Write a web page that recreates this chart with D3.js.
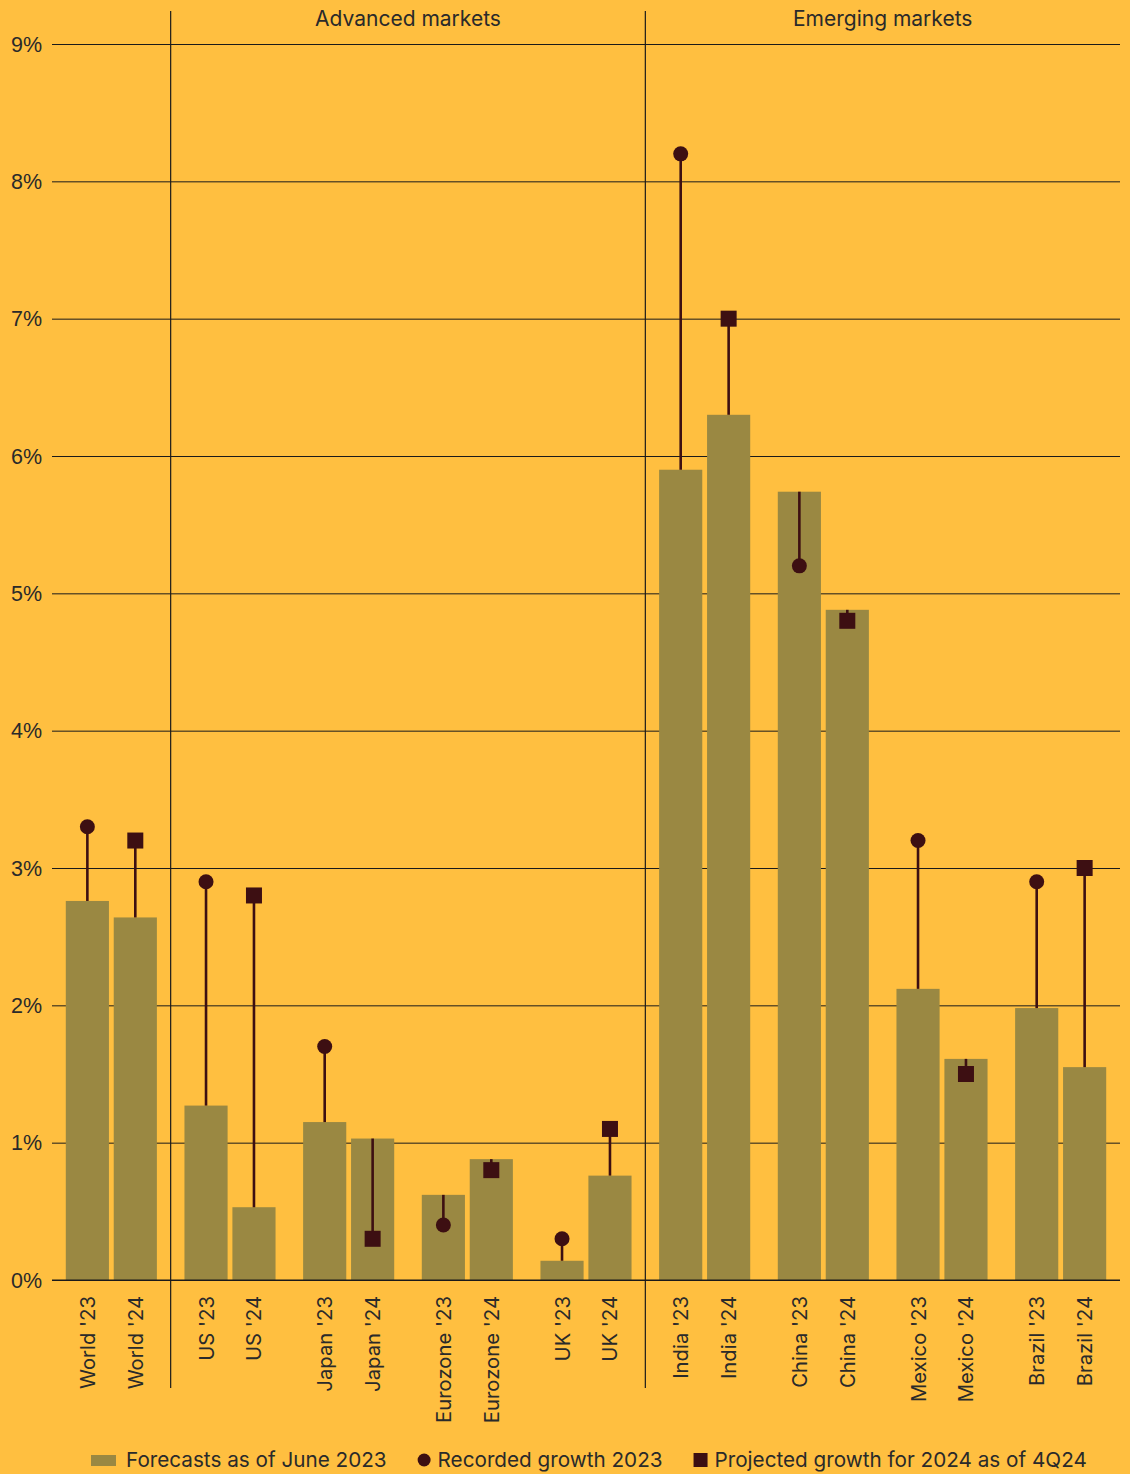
<!DOCTYPE html>
<html>
<head>
<meta charset="utf-8">
<script src="https://cdn.jsdelivr.net/npm/d3@7"></script>
<style>
  html, body { margin: 0; padding: 0; background: #FFBF40; }
  svg { display: block; font-family: Inter, "Noto Sans", sans-serif; }
</style>
</head>
<body>
<svg id="chart" width="1130" height="1474"></svg>
<script>
// Economies, grouped into pairs of 2023 / 2024 bars
const economies = ["World", "US", "Japan", "Eurozone", "UK", "India", "China", "Mexico", "Brazil"];
const years = ["'23", "'24"];

// Forecast growth as of June 2023 (%)
const forecast2023 = [2.76, 1.27, 1.15, 0.62, 0.14, 5.90, 5.74, 2.12, 1.98];
const forecast2024 = [2.64, 0.53, 1.03, 0.88, 0.76, 6.30, 4.88, 1.61, 1.55];

// Recorded growth 2023 (%)
const recorded2023 = [3.3, 2.9, 1.7, 0.4, 0.3, 8.2, 5.2, 3.2, 2.9];
// Projected growth for 2024 as of 4Q24 (%)
const projected2024 = [3.2, 2.8, 0.3, 0.8, 1.1, 7.0, 4.8, 1.5, 3.0];

const yTicks = [0, 1, 2, 3, 4, 5, 6, 7, 8, 9];
const sections = [
  { name: "Advanced markets", from: "US", to: "UK" },
  { name: "Emerging markets", from: "India", to: "Brazil" }
];
const legendItems = [
  { label: "Forecasts as of June 2023", kind: "bar" },
  { label: "Recorded growth 2023", kind: "circle" },
  { label: "Projected growth for 2024 as of 4Q24", kind: "square" }
];

const colors = {
  bar: "#9A8842",
  mark: "#3D0F12",
  grid: "#1a1a1a",
  text: "#2a2a2a"
};

const svg = d3.select("#chart");
const plotLeft = 52, plotRight = 1120, plotTop = 44, plotBottom = 1280;

const x0 = d3.scaleBand().domain(economies).range([plotLeft, plotRight]).padding(0);
const gw = x0.bandwidth();
const x1 = d3.scaleBand().domain(years)
  .range([gw * 0.096, gw * 0.904]).paddingInner(0.1).paddingOuter(0.05);
const y = d3.scaleLinear().domain([0, 9]).range([plotBottom, plotTop]);

// One record per bar
const rows = [];
economies.forEach((e, i) => {
  rows.push({ eco: e, yr: years[0], fc: forecast2023[i], actual: recorded2023[i], shape: "circle" });
  rows.push({ eco: e, yr: years[1], fc: forecast2024[i], actual: projected2024[i], shape: "square" });
});
const cx = d => x0(d.eco) + x1(d.yr) + x1.bandwidth() / 2;

// Gridlines and y labels
const yAxis = d3.axisLeft(y).tickValues(yTicks).tickSize(-(plotRight - plotLeft)).tickFormat(d => d + "%");
const yg = svg.append("g").attr("transform", `translate(${plotLeft},0)`).call(yAxis);
yg.select(".domain").remove();
yg.selectAll(".tick line").attr("stroke", colors.grid).attr("stroke-width", 1);
yg.selectAll(".tick text")
  .attr("x", -plotLeft + 11).attr("text-anchor", "start")
  .attr("fill", colors.text).style("font-size", "21.5px").attr("dy", "0.34em");

// Section dividers and titles
sections.forEach(s => {
  const xs = x0(s.from);
  const xe = x0(s.to) + gw;
  svg.append("line")
    .attr("x1", xs).attr("x2", xs).attr("y1", 11).attr("y2", 1388)
    .attr("stroke", colors.grid).attr("stroke-width", 1.2);
  svg.append("text")
    .attr("x", (xs + xe) / 2).attr("y", 26)
    .attr("text-anchor", "middle").attr("fill", colors.text)
    .style("font-size", "21px").text(s.name);
});

// Forecast bars
svg.append("g").selectAll("rect").data(rows).join("rect")
  .attr("x", d => x0(d.eco) + x1(d.yr))
  .attr("width", x1.bandwidth())
  .attr("y", d => y(d.fc))
  .attr("height", d => y(0) - y(d.fc))
  .attr("fill", colors.bar);

// Baseline
svg.append("line").attr("x1", plotLeft).attr("x2", plotRight)
  .attr("y1", y(0)).attr("y2", y(0)).attr("stroke", colors.grid).attr("stroke-width", 1);

// Stems from forecast to outcome
svg.append("g").selectAll("line").data(rows).join("line")
  .attr("x1", cx).attr("x2", cx)
  .attr("y1", d => y(d.fc)).attr("y2", d => y(d.actual))
  .attr("stroke", colors.mark).attr("stroke-width", 2.6);

// Outcome markers
svg.append("g").selectAll("circle").data(rows.filter(d => d.shape === "circle")).join("circle")
  .attr("cx", cx).attr("cy", d => y(d.actual)).attr("r", 7.5)
  .attr("fill", colors.mark);
svg.append("g").selectAll("rect").data(rows.filter(d => d.shape === "square")).join("rect")
  .attr("x", d => cx(d) - 8).attr("y", d => y(d.actual) - 8)
  .attr("width", 16).attr("height", 16)
  .attr("fill", colors.mark);

// Category labels, rotated
svg.append("g").selectAll("text").data(rows).join("text")
  .attr("transform", d => `translate(${cx(d) + 7.5},${plotBottom + 16}) rotate(-90)`)
  .attr("text-anchor", "end")
  .attr("fill", colors.text)
  .style("font-size", "20.3px")
  .text(d => `${d.eco} ${d.yr}`);

// Legend
const lg = svg.append("g");
let lx = 91;
const ly = 1460;
legendItems.forEach(item => {
  let sw;
  if (item.kind === "bar") {
    lg.append("rect").attr("x", lx).attr("y", ly - 5).attr("width", 25).attr("height", 11).attr("fill", colors.bar);
    sw = 35;
  } else if (item.kind === "circle") {
    lg.append("circle").attr("cx", lx + 6.5).attr("cy", ly).attr("r", 6.5).attr("fill", colors.mark);
    sw = 20;
  } else {
    lg.append("rect").attr("x", lx).attr("y", ly - 7).attr("width", 14).attr("height", 14).attr("fill", colors.mark);
    sw = 21;
  }
  const t = lg.append("text").attr("x", lx + sw).attr("y", ly).attr("dy", "0.35em")
    .attr("fill", colors.text).style("font-size", "20.7px").text(item.label);
  lx += sw + t.node().getComputedTextLength() + 31;
});
</script>
</body>
</html>
